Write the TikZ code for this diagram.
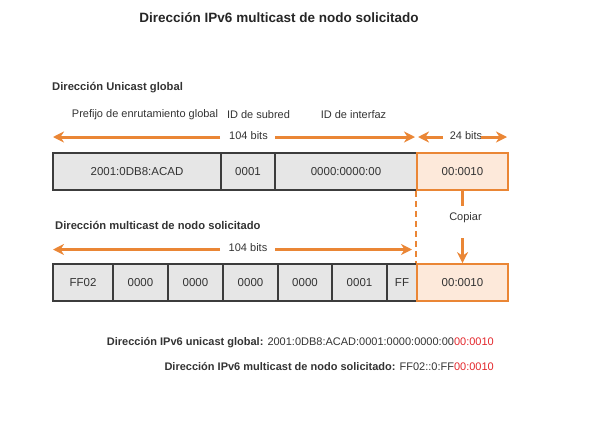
\documentclass[tikz,border=0pt]{standalone}
\usepackage{fontspec}
\setmainfont{Liberation Sans}
\usetikzlibrary{arrows.meta}
\definecolor{org}{HTML}{EA8635}
\definecolor{orgfill}{HTML}{FDE9DA}
\definecolor{cellfill}{HTML}{E6E6E6}
\definecolor{cellline}{HTML}{3C3C3C}
\definecolor{txt}{HTML}{333333}
\definecolor{redtxt}{HTML}{E3262B}
\begin{document}
\begin{tikzpicture}[x=1pt,y=-1pt,
  cell/.style={draw=cellline, fill=cellfill, line width=1.7pt, minimum height=37pt, inner sep=0pt, font=\fontsize{11.5}{13}\selectfont, text=txt},
  ocell/.style={cell, draw=org, fill=orgfill},
  oline/.style={draw=org, line width=3pt},
  oarrow/.style={oline, -{Stealth[length=11pt,width=11pt,inset=3.5pt]}},
  lbl/.style={font=\fontsize{11}{13}\selectfont, text=txt, inner sep=0pt},
  hdr/.style={font=\bfseries\fontsize{11.2}{13}\selectfont, text=txt, inner sep=0pt, anchor=west},
  ]
\useasboundingbox (0,0) rectangle (612,434);

% title
\node[font=\bfseries\fontsize{13.5}{16}\selectfont, text=black!85] (title) at (279,18) {Dirección IPv6 multicast de nodo solicitado};

% headers
\node[hdr] (h1) at (52,88) {Dirección Unicast global};
\node[hdr] (h2) at (55,225) {Dirección multicast de nodo solicitado};

% field labels
\node[lbl] (pref) at (145,115) {Prefijo de enrutamiento global};
\node[lbl] (sub) at (258.5,115) {ID de subred};
\node[lbl] (iid) at (353.5,115) {ID de interfaz};

% top row
\node[cell, minimum width=168pt] (a1) at (137,171.5) {2001:0DB8:ACAD};
\node[cell, minimum width=54pt] (a2) at (248,171.5) {0001};
\node[cell, minimum width=142pt] (a3) at (346,171.5) {0000:0000:00};
\node[ocell, minimum width=91pt] (a4) at (462.5,171.5) {00:0010};

% bottom row
\node[cell, minimum width=60pt] (b1) at (83,282.5) {FF02};
\node[cell, minimum width=55pt] (b2) at (140.5,282.5) {0000};
\node[cell, minimum width=55pt] (b3) at (195.5,282.5) {0000};
\node[cell, minimum width=55pt] (b4) at (250.5,282.5) {0000};
\node[cell, minimum width=54pt] (b5) at (305,282.5) {0000};
\node[cell, minimum width=55pt] (b6) at (359.5,282.5) {0001};
\node[cell, minimum width=30pt] (b7) at (402,282.5) {FF};
\node[ocell, minimum width=91pt] (b8) at (462.5,282.5) {00:0010};

% top 104 bits arrows
\node[lbl] (t104) at (248.5,136) {104 bits};
\coordinate (t104l) at (220,137);
\coordinate (t104r) at (275,137);
\coordinate (t104le) at (53,137);
\coordinate (t104re) at (415,137);
\draw[oarrow] (t104l) -- (t104le);
\draw[oarrow] (t104r) -- (t104re);

% 24 bits
\node[lbl] (t24) at (466,136) {24 bits};
\coordinate (t24l) at (443,137);
\coordinate (t24le) at (418,137);
\coordinate (t24r) at (481,137);
\coordinate (t24re) at (507,137);
\draw[oarrow] (t24l) -- (t24le);
\draw[oarrow] (t24r) -- (t24re);

% bottom 104 bits arrows
\node[lbl] (m104) at (248,248) {104 bits};
\coordinate (m104l) at (220,249.5);
\coordinate (m104r) at (275,249.5);
\coordinate (m104le) at (53,249.5);
\coordinate (m104re) at (412,249.5);
\draw[oarrow] (m104l) -- (m104le);
\draw[oarrow] (m104r) -- (m104re);

% dashed separator
\draw[org, line width=1.9pt, dash pattern=on 6pt off 4pt] (a4.south west) -- (b8.north west);

% copy
\node[lbl] (copy) at (465.5,218) {Copiar};
\coordinate (c1) at (462.5,206);
\coordinate (c2) at (462.5,238);
\draw[oline] (a4.south) -- (c1);
\draw[oarrow] (c2) -- (b8.north);

% bottom texts
\node[lbl, anchor=east] (u) at (494,343) {\textbf{Dirección IPv6 unicast global:} 2001:0DB8:ACAD:0001:0000:0000:00\textcolor{redtxt}{00:0010}};
\node[lbl, anchor=east] (mm) at (494,367) {\textbf{Dirección IPv6 multicast de nodo solicitado:} FF02::0:FF\textcolor{redtxt}{00:0010}};
\end{tikzpicture}
\end{document}
